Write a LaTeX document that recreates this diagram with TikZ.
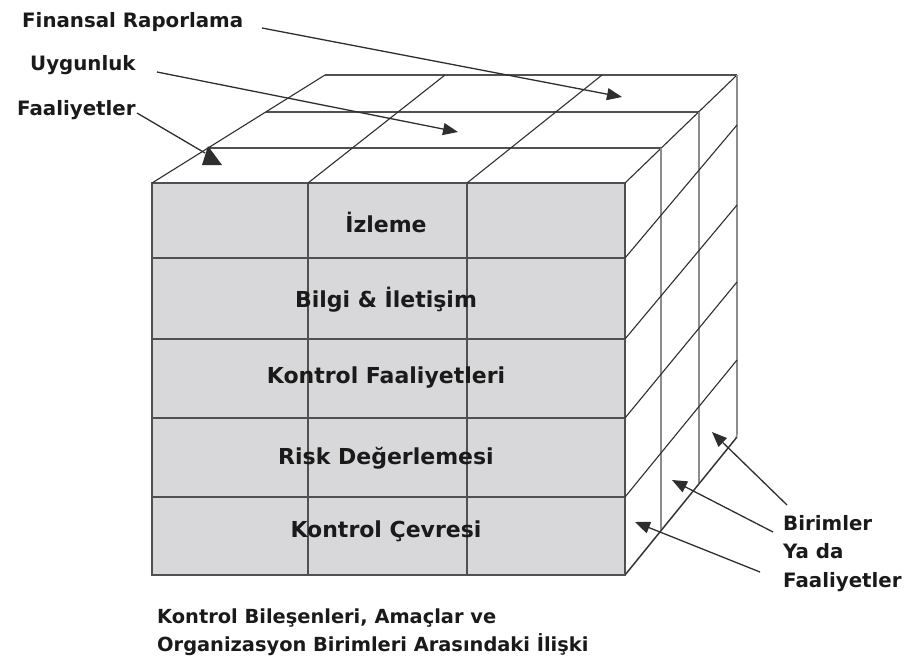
\documentclass[tikz,border=0pt]{standalone}
\usepackage{fontspec}
\setmainfont{DejaVu Sans}
\usetikzlibrary{arrows.meta,calc}
\definecolor{facefill}{RGB}{216,216,218}
\definecolor{gridgrey}{RGB}{80,80,80}
\definecolor{edgedark}{RGB}{46,46,46}
\definecolor{vertgrey}{RGB}{140,140,140}
\definecolor{inkdark}{RGB}{26,26,26}
\begin{document}
\begin{tikzpicture}[x=1pt,y=-1pt,
  gridline/.style={draw=gridgrey, line width=1.5pt},
  depthline/.style={draw=edgedark, line width=1.1pt},
  sideline/.style={draw=vertgrey, line width=1.6pt},
  pointer/.style={draw=edgedark, line width=1.3pt, -{Triangle[length=15pt,width=12pt]}},
  lbl/.style={font=\bfseries\fontsize{19.8}{24}\selectfont, text=inkdark, inner sep=0pt},
  layer/.style={lbl, font=\bfseries\fontsize{22}{26}\selectfont, anchor=base},
  capt/.style={lbl, font=\bfseries\fontsize{19.4}{24}\selectfont, anchor=base west}
]
\useasboundingbox (0,0) rectangle (905,667);

% corner points of the front face
\coordinate (FTL) at (152,183);
\coordinate (FTR) at (625,183);
\coordinate (FBL) at (152,575);
\coordinate (FBR) at (625,575);

% depth edges of the top face (front point -> back point)
\coordinate (A0) at (152,183); \coordinate (A3) at (325,75);
\coordinate (B0) at (308,183); \coordinate (B3) at (445,75);
\coordinate (C0) at (467,183); \coordinate (C3) at (602,75);
\coordinate (D0) at (625,183); \coordinate (D3) at (737,75);

% front face: shaded grid of 5 layers by 3 columns
\fill[facefill] (FTL) rectangle (FBR);
\foreach \y in {258,339,418,497} \draw[gridline] (152,\y) -- (625,\y);
\foreach \x in {308,467} \draw[gridline] (\x,183) -- (\x,575);
\draw[gridline] (FTL) rectangle (FBR);

% top face
\foreach \t in {0.324,0.657}
  \draw[gridline] ($(A0)!\t!(A3)$) -- ($(D0)!\t!(D3)$);
\draw[gridline] (A3) -- (D3);
\foreach \p in {A,B,C,D} \draw[depthline] (\p0) -- (\p3);

% right face: vertical slices and layer lines
\draw[sideline] (661,148) -- (661,531);
\draw[sideline] (699,112) -- (699,484);
\draw[sideline, rounded corners=3pt] (737,75) -- (737,437) -- (FBR);
\foreach \yf/\yb in {258/125,339/205,418/282,497/360}
  \draw[depthline] (625,\yf) -- (737,\yb);
\draw[depthline] (FBR) -- (737,437);

% layer names
\node[layer] (izl) at (386,232) {İzleme};
\node[layer] (bil) at (386,307) {Bilgi \& İletişim};
\node[layer] (kfa) at (386,383) {Kontrol Faaliyetleri};
\node[layer] (rsk) at (386,464) {Risk Değerlemesi};
\node[layer] (kcv) at (386,537) {Kontrol Çevresi};

% objective labels and their pointers
\node[lbl, anchor=base west] (fin) at (22,27) {Finansal Raporlama};
\node[lbl, anchor=base west] (uyg) at (30,70) {Uygunluk};
\node[lbl, anchor=base west] (faa) at (17,115) {Faaliyetler};

\coordinate (finS) at (262,28);  \coordinate (finT) at (622,97);
\coordinate (uygS) at (157,72);  \coordinate (uygT) at (458,132);
\coordinate (faaS) at (137,113); \coordinate (faaT) at (205,153);
\draw[pointer] (finS) -- (finT);
\draw[pointer] (uygS) -- (uygT);
\draw[depthline, line width=1.3pt] (faaS) -- (faaT);
\fill[edgedark] (208,146) -- (222,165) -- (202,165) -- cycle;

% unit labels and their pointers
\node[lbl, anchor=base west] (bir) at (783,530) {Birimler};
\node[lbl, anchor=base west] (yad) at (783,558) {Ya da};
\node[lbl, anchor=base west] (bfa) at (783,587) {Faaliyetler};

\coordinate (u1S) at (787,505); \coordinate (u1T) at (712,432);
\coordinate (u2S) at (773,532); \coordinate (u2T) at (672,480);
\coordinate (u3S) at (760,572); \coordinate (u3T) at (635,522);
\draw[pointer] (u1S) -- (u1T);
\draw[pointer] (u2S) -- (u2T);
\draw[pointer] (u3S) -- (u3T);

% caption
\node[capt] (cap1) at (157,623) {Kontrol Bileşenleri, Amaçlar ve};
\node[capt] (cap2) at (157,651) {Organizasyon Birimleri Arasındaki İlişki};
\end{tikzpicture}
\end{document}
